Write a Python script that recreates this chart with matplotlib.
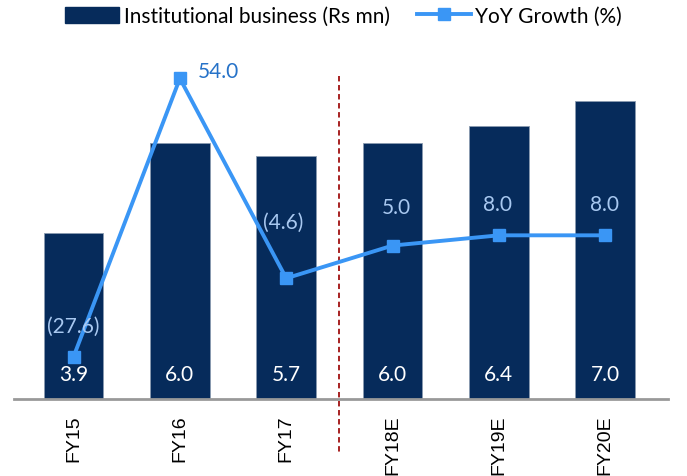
import matplotlib
matplotlib.use("Agg")
import matplotlib.pyplot as plt
from matplotlib.lines import Line2D
from matplotlib.patches import Patch

# data
years = ["FY15", "FY16", "FY17", "FY18E", "FY19E", "FY20E"]
business = [3.9, 6.0, 5.7, 6.0, 6.4, 7.0]
growth = [-27.6, 54.0, -4.6, 5.0, 8.0, 8.0]

BAR = "#062B5B"
LINE = "#3A96F5"

def fmt(v):
    return "(%.1f)" % abs(v) if v < 0 else "%.1f" % v

fig = plt.figure(figsize=(6.87, 4.77), dpi=100)
ax = fig.add_axes([14 / 687, 77 / 477, 654 / 687, 341 / 477])
ax2 = ax.twinx()

x = list(range(len(years)))
ax.bar(x, business, width=0.56, color=BAR, edgecolor="#8A9BB0", linewidth=0.6, zorder=2)
ax.set_xlim(-0.56, 5.59)
ax.set_ylim(0, 8)
ax2.set_ylim(-40, 60)

# bar labels inside, near the base
for xi, v in zip(x, business):
    ax.annotate(fmt(v), (xi, 0), xytext=(0, 25), textcoords="offset pixels",
                ha="center", va="center", color="white", fontsize=15, family="Lato")

ax2.plot(x, growth, color=LINE, lw=2.8, marker="s", ms=8, zorder=3)

# growth labels (offsets in pixels, hand placed)
offs = [(0, 31), (18, 7), (-3, 56), (4, 39), (-1, 31), (-1, 31)]
for i, (xi, v) in enumerate(zip(x, growth)):
    col = "#2672C8" if i == 1 else "#A8C8F0"
    ha = "left" if i == 1 else "center"
    ax2.annotate(fmt(v), (xi, v), xytext=offs[i], textcoords="offset pixels",
                 ha=ha, va="center", color=col, fontsize=15, family="Lato")

# forecast divider
ax.plot([2.5, 2.5], [0.947, -0.161], transform=ax.get_xaxis_transform(),
        color="#A01010", ls=(0, (3, 2)), lw=1.3, clip_on=False, zorder=4)

for a in (ax, ax2):
    for s in a.spines.values():
        s.set_visible(False)
    a.set_yticks([])
ax.spines["bottom"].set_visible(True)
ax.spines["bottom"].set_color("#999999")
ax.spines["bottom"].set_linewidth(2)
ax.set_xticks(x)
ax.set_xticklabels(years, rotation=90, fontsize=14, family="Liberation Sans")
ax.tick_params(axis="x", length=0, pad=11)

handles = [Patch(color=BAR), Line2D([], [], color=LINE, lw=2.8, marker="s", ms=8)]
fig.legend(handles, ["Institutional business (Rs mn)", "YoY Growth (%)"],
           loc="center", bbox_to_anchor=(0.5, 1 - 17 / 477), ncol=2, frameon=False,
           prop={"family": "Lato", "size": 15}, handlelength=2.6, handleheight=0.77,
           handletextpad=0.2, columnspacing=1.3, borderpad=0, borderaxespad=0)

fig.savefig("out.png", dpi=100)
